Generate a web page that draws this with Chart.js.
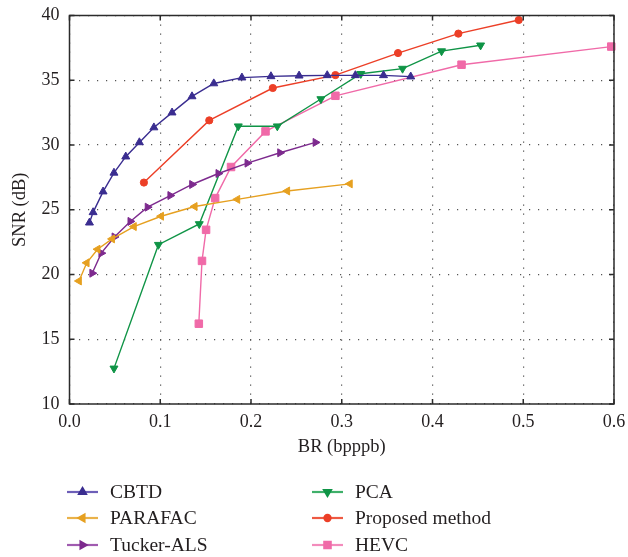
<!DOCTYPE html>
<html>
<head>
<meta charset="utf-8">
<script src="https://cdn.jsdelivr.net/npm/chart.js@4.4.1/dist/chart.umd.min.js"></script>
<style>
  html, body { margin: 0; padding: 0; background: #fff; }
</style>
</head>
<body>
<canvas id="rdChart" width="628" height="557"></canvas>
<script>
// Rate-distortion curves (BR in bpppb, SNR in dB)
const cbtdBR = [0.022, 0.026, 0.037, 0.049, 0.062, 0.077, 0.093, 0.113, 0.135, 0.159, 0.190, 0.222, 0.253, 0.284, 0.315, 0.346, 0.376];
const cbtdSNR = [24.0, 24.8, 26.4, 27.85, 29.1, 30.2, 31.35, 32.5, 33.75, 34.75, 35.2, 35.3, 35.35, 35.38, 35.38, 35.38, 35.28];

const parafacBR = [0.0105, 0.019, 0.031, 0.047, 0.071, 0.101, 0.138, 0.185, 0.240, 0.309];
const parafacSNR = [19.5, 20.9, 21.95, 22.75, 23.7, 24.5, 25.25, 25.8, 26.45, 27.0];

const tuckerBR = [0.025, 0.035, 0.0495, 0.067, 0.086, 0.111, 0.135, 0.164, 0.196, 0.232, 0.271];
const tuckerSNR = [20.1, 21.65, 22.9, 24.1, 25.2, 26.1, 26.95, 27.8, 28.6, 29.4, 30.2];

const pcaBR = [0.049, 0.098, 0.143, 0.186, 0.229, 0.277, 0.321, 0.367, 0.410, 0.453];
const pcaSNR = [12.75, 22.3, 23.9, 31.45, 31.45, 33.55, 35.5, 35.9, 37.25, 37.7];

const proposedBR = [0.082, 0.154, 0.224, 0.293, 0.362, 0.4285, 0.495];
const proposedSNR = [27.1, 31.9, 34.4, 35.4, 37.1, 38.6, 39.65];

const hevcBR = [0.1425, 0.146, 0.1505, 0.1605, 0.178, 0.216, 0.293, 0.432, 0.597];
const hevcSNR = [16.2, 21.05, 23.45, 25.9, 28.3, 31.05, 33.8, 36.2, 37.6];

const seriesNames = ['CBTD', 'PARAFAC', 'Tucker-ALS', 'PCA', 'Proposed method', 'HEVC'];

const serif = '"Liberation Serif", "Times New Roman", serif';
const textColor = '#231f20';

// Pair up x/y arrays into points
function toPoints(xs, ys) {
  return xs.map((x, i) => ({ x: x, y: ys[i] }));
}

function makeSeries(label, xs, ys, color, legendColor, style, rotation, radius) {
  return {
    label: label,
    data: toPoints(xs, ys),
    borderColor: color,
    backgroundColor: color,
    legendColor: legendColor,
    borderWidth: 1.4,
    pointStyle: style,
    pointRotation: rotation,
    pointRadius: radius,
    pointBorderWidth: 1,
    pointBackgroundColor: color,
    pointBorderColor: color,
    tension: 0,
    fill: false,
    clip: false
  };
}

const datasets = [
  makeSeries(seriesNames[0], cbtdBR, cbtdSNR, '#3a2d90', '#6d5fb8', 'triangle', 0, 4.6),
  makeSeries(seriesNames[1], parafacBR, parafacSNR, '#e6a020', '#eab24a', 'triangle', -90, 4.6),
  makeSeries(seriesNames[2], tuckerBR, tuckerSNR, '#7d2a8e', '#a05bb0', 'triangle', 90, 4.6),
  makeSeries(seriesNames[3], pcaBR, pcaSNR, '#0f9446', '#3fb06a', 'triangle', 180, 4.6),
  makeSeries(seriesNames[4], proposedBR, proposedSNR, '#ec3f27', '#ee5a43', 'circle', 0, 3.6),
  makeSeries(seriesNames[5], hevcBR, hevcSNR, '#f06aa8', '#f38cbc', 'rect', 0, 5.3)
];

// Frame round the plot with inward tick marks on all four sides
const framePlugin = {
  id: 'frame',
  afterDraw(chart) {
    const ctx = chart.ctx;
    const a = chart.chartArea;
    const xs = chart.scales.x, ys = chart.scales.y;
    ctx.save();
    ctx.strokeStyle = '#2b2b2b';
    ctx.lineWidth = 1.5;
    ctx.strokeRect(a.left, a.top, a.right - a.left, a.bottom - a.top);
    ctx.beginPath();
    xs.ticks.forEach(t => {
      const px = xs.getPixelForValue(t.value);
      ctx.moveTo(px, a.bottom); ctx.lineTo(px, a.bottom - 5);
      ctx.moveTo(px, a.top); ctx.lineTo(px, a.top + 5);
    });
    ys.ticks.forEach(t => {
      const py = ys.getPixelForValue(t.value);
      ctx.moveTo(a.left, py); ctx.lineTo(a.left + 5, py);
      ctx.moveTo(a.right, py); ctx.lineTo(a.right - 5, py);
    });
    ctx.stroke();
    ctx.restore();
  }
};

// Two-column legend under the plot
const legendPlugin = {
  id: 'twoColLegend',
  afterDraw(chart) {
    const ctx = chart.ctx;
    const cols = [67, 312];
    const rows = [492, 518, 545];
    chart.data.datasets.forEach((ds, i) => {
      const x = cols[Math.floor(i / 3)];
      const y = rows[i % 3];
      ctx.save();
      ctx.strokeStyle = ds.legendColor;
      ctx.lineWidth = 2.2;
      ctx.beginPath();
      ctx.moveTo(x, y);
      ctx.lineTo(x + 31, y);
      ctx.stroke();
      ctx.fillStyle = ds.pointBackgroundColor;
      ctx.strokeStyle = ds.pointBorderColor;
      Chart.helpers.drawPoint(ctx, {
        pointStyle: ds.pointStyle,
        rotation: ds.pointRotation,
        radius: ds.pointRadius * 0.85,
        borderWidth: 1
      }, x + 15.5, y);
      ctx.fillStyle = textColor;
      ctx.font = '19.5px ' + serif;
      ctx.textBaseline = 'middle';
      ctx.textAlign = 'left';
      ctx.fillText(ds.label, x + 43, y + 1);
      ctx.restore();
    });
  }
};

const ctx = document.getElementById('rdChart').getContext('2d');
new Chart(ctx, {
  type: 'line',
  data: { datasets: datasets },
  options: {
    responsive: false,
    animation: false,
    layout: { padding: { left: 0, right: 14, top: 15.5, bottom: 94.9 } },
    plugins: {
      legend: { display: false },
      tooltip: { enabled: false }
    },
    scales: {
      x: {
        type: 'linear',
        min: 0,
        max: 0.6,
        afterFit: scale => { scale.height = 58.1; },
        ticks: {
          stepSize: 0.1,
          padding: 0,
          color: textColor,
          font: { family: serif, size: 18 },
          callback: v => v.toFixed(1)
        },
        grid: { color: '#555', lineWidth: 1.2, drawTicks: true, tickLength: 7, tickColor: 'rgba(0,0,0,0)' },
        border: { display: false, dash: [1.2, 7.8] },
        title: {
          display: true,
          text: 'BR (bpppb)',
          color: textColor,
          font: { family: serif, size: 18.5 },
          padding: { top: 2.3, bottom: 4 }
        }
      },
      y: {
        min: 10,
        max: 40,
        afterFit: scale => { scale.width = 69.5; },
        ticks: {
          stepSize: 5,
          padding: 0,
          color: textColor,
          font: { family: serif, size: 18 }
        },
        grid: { color: '#555', lineWidth: 1.2, drawTicks: true, tickLength: 10, tickColor: 'rgba(0,0,0,0)' },
        border: { display: false, dash: [1.2, 7.8] },
        title: {
          display: true,
          text: 'SNR (dB)',
          color: textColor,
          font: { family: serif, size: 18.5 },
          padding: { top: 9.4, bottom: 12 }
        }
      }
    }
  },
  plugins: [framePlugin, legendPlugin]
});
</script>
</body>
</html>
